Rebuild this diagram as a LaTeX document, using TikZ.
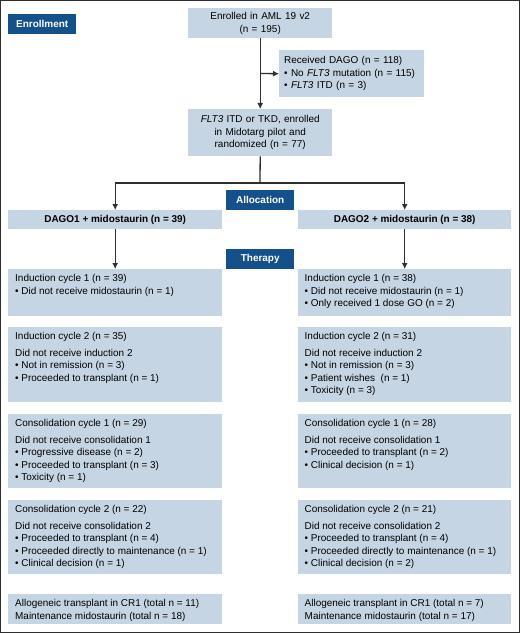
\documentclass[tikz,border=0pt]{standalone}
\usepackage{fontspec}
\setmainfont{Liberation Sans}
\usetikzlibrary{arrows.meta,positioning}
\definecolor{tagblue}{HTML}{14508A}
\definecolor{cellblue}{HTML}{C6D5E3}
\definecolor{linegray}{HTML}{2E2E2E}
\tikzset{
  tag/.style={fill=tagblue, text=white, font=\fontsize{10}{12}\selectfont\bfseries,
              minimum width=68bp, minimum height=20bp, inner sep=0pt, anchor=north west},
  cell/.style={fill=cellblue, anchor=north west, inner xsep=7bp, inner ysep=5.5bp,
               font=\fontsize{10}{12.3}\selectfont},
  midcell/.style={fill=cellblue, anchor=north west, inner sep=0pt, align=center,
                  font=\fontsize{10}{12.6}\selectfont},
  arrow/.style={-{Latex[length=6bp,width=6bp]}, line width=1.3bp, linegray},
  link/.style={line width=1.3bp, linegray},
}
% top aligned text in a box of given height
\newcommand{\celltext}[3]{\begin{minipage}[c][\dimexpr #1bp-11bp\relax][t]{#2bp}\raggedright #3\end{minipage}}

\begin{document}
\begin{tikzpicture}[x=1bp, y=-1bp]
\useasboundingbox (0,0) rectangle (520,633);
\draw[linegray, line width=1.2bp] (0.6,0.6) rectangle (519.4,632.4);

% Enrollment
\node[tag] (enrolltag) at (8,14) {Enrollment};
\node[midcell, minimum width=144bp, minimum height=30bp, text width=144bp] (enrolled) at (188,8) {Enrolled in AML 19 v2\\(n = 195)};
\node[midcell, align=left, minimum width=145bp, minimum height=47bp, text width=135bp, inner xsep=5bp] (dago) at (279,50)
  {Received DAGO (n = 118)\\• No \textit{FLT3} mutation (n = 115)\\• \textit{FLT3} ITD (n = 3)};
\node[midcell, minimum width=144bp, minimum height=47bp, text width=144bp] (flt3) at (188,109)
  {\textit{FLT3} ITD or TKD, enrolled\\in Midotarg pilot and\\randomized (n = 77)};

% Allocation
\node[tag] (alloctag) at (226,190) {Allocation};
\node[midcell, font=\fontsize{10}{12}\selectfont\bfseries, minimum width=214bp, minimum height=19bp] (dago1) at (8,210) {DAGO1 + midostaurin (n = 39)};
\node[midcell, font=\fontsize{10}{12}\selectfont\bfseries, minimum width=213bp, minimum height=19bp] (dago2) at (298,210) {DAGO2 + midostaurin (n = 38)};

% Therapy, left arm
\node[tag] (therapytag) at (226,249) {Therapy};
\node[cell] (ind1L) at (8,269) {\celltext{47}{200}{Induction cycle 1 (n = 39)\\• Did not receive midostaurin (n = 1)}};
\node[cell] (ind2L) at (8,327) {\celltext{75}{200}{Induction cycle 2 (n = 35)\\[4.5bp]Did not receive induction 2\\• Not in remission (n = 3)\\• Proceeded to transplant (n = 1)}};
\node[cell] (con1L) at (8,414) {\celltext{74}{200}{Consolidation cycle 1 (n = 29)\\[4.5bp]Did not receive consolidation 1\\• Progressive disease (n = 2)\\• Proceeded to transplant (n = 3)\\• Toxicity (n = 1)}};
\node[cell] (con2L) at (8,500) {\celltext{74}{200}{Consolidation cycle 2 (n = 22)\\[4.5bp]Did not receive consolidation 2\\• Proceeded to transplant (n = 4)\\• Proceeded directly to maintenance (n = 1)\\• Clinical decision (n = 1)}};
\node[cell] (finalL) at (8,594) {\celltext{30}{200}{Allogeneic transplant in CR1 (total n = 11)\\Maintenance midostaurin (total n = 18)}};

% Therapy, right arm
\node[cell, inner xsep=6.5bp] (ind1R) at (298,269) {\celltext{47}{200}{Induction cycle 1 (n = 38)\\• Did not receive midostaurin (n = 1)\\• Only received 1 dose GO (n = 2)}};
\node[cell, inner xsep=6.5bp] (ind2R) at (298,327) {\celltext{75}{200}{Induction cycle 2 (n = 31)\\[4.5bp]Did not receive induction 2\\• Not in remission (n = 3)\\• Patient wishes~ (n = 1)\\• Toxicity (n = 3)}};
\node[cell, inner xsep=6.5bp] (con1R) at (298,414) {\celltext{74}{200}{Consolidation cycle 1 (n = 28)\\[4.5bp]Did not receive consolidation 1\\• Proceeded to transplant (n = 2)\\• Clinical decision (n = 1)}};
\node[cell, inner xsep=6.5bp] (con2R) at (298,500) {\celltext{74}{200}{Consolidation cycle 2 (n = 21)\\[4.5bp]Did not receive consolidation 2\\• Proceeded to transplant (n = 4)\\• Proceeded directly to maintenance (n = 1)\\• Clinical decision (n = 2)}};
\node[cell, inner xsep=6.5bp] (finalR) at (298,594) {\celltext{30}{200}{Allogeneic transplant in CR1 (total n = 7)\\Maintenance midostaurin (total n = 17)}};

% Arrows
\coordinate (split) at (260,73.5);
\coordinate (fork) at (260,183);
\draw[arrow] (enrolled.south) -- (flt3.north);
\draw[arrow] (split) -- (dago.west);
\draw[link] (flt3.south) -- (fork);
\draw[arrow] (fork) -| (dago1.north);
\draw[arrow] (fork) -| (dago2.north);
\draw[arrow] (dago1.south) -- (ind1L.north);
\draw[arrow] (dago2.south) -- (ind1R.north);

\end{tikzpicture}
\end{document}
